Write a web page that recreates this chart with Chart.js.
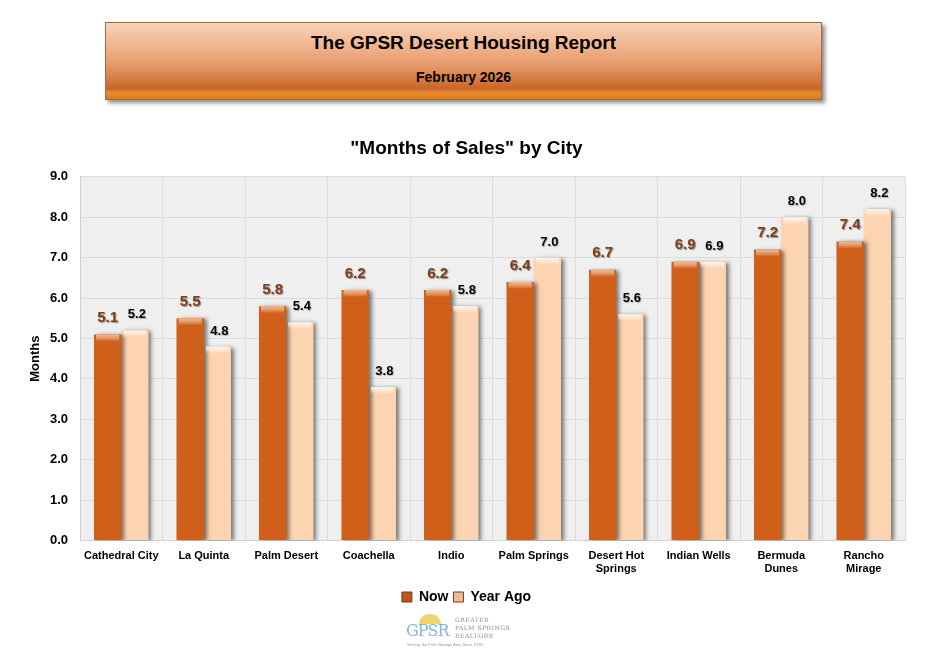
<!DOCTYPE html>
<html>
<head>
<meta charset="utf-8">
<script src="https://cdn.jsdelivr.net/npm/chart.js@4/dist/chart.umd.min.js"></script>
<style>
  body { margin: 0; background: #fff; font-family: "Liberation Sans", Arial, sans-serif; }
  #page { position: relative; width: 933px; height: 650px; overflow: hidden; }
  #banner {
    position: absolute; left: 105px; top: 22px; width: 715px; height: 76px;
    border: 1px solid #9a6a4a;
    background: linear-gradient(to bottom, #f8d2b6 0%, #f1b58e 30%, #e59a6a 55%, #d27538 78%, #c9652a 86%, #e88a2a 92%, #d97a1e 100%);
    box-shadow: 3px 3px 4px rgba(0,0,0,0.45);
    text-align: center; color: #000;
  }
  #banner .t1 { position: absolute; left: 0; right: 0; top: 9px; font-weight: bold; font-size: 19px; }
  #banner .t2 { position: absolute; left: 0; right: 0; top: 46px; font-weight: bold; font-size: 14px; }
  #wrap { position: absolute; left: 0; top: 130px; width: 933px; height: 490px; }
  #logo { position: absolute; left: 405px; top: 612px; width: 110px; height: 36px; }
  #logo .g { position: absolute; left: 1px; top: 9px; font-family: "DejaVu Serif", serif; font-size: 16px; color: #7fb8d8; letter-spacing: -1px; }
  #logo .r { position: absolute; left: 50px; top: 4px; font-family: "DejaVu Serif", serif; font-size: 6px; line-height: 8px; color: #8a8a8a; letter-spacing: 0.5px; white-space: nowrap; }
  #logo .sun { position: absolute; left: 14px; top: 2px; width: 22px; height: 10px; border-radius: 11px 11px 0 0; background: #f3d36a; }
  #logo .s { position: absolute; left: 2px; top: 30px; font-size: 4px; color: #999; white-space: nowrap; }
</style>
</head>
<body>
<div id="page">
  <div id="banner">
    <div class="t1">The GPSR Desert Housing Report</div>
    <div class="t2">February 2026</div>
  </div>
  <div id="wrap"><canvas id="chart"></canvas></div>
  <div id="logo">
    <div class="sun"></div>
    <div class="g">GPSR</div>
    <div class="r">GREATER<br>PALM SPRINGS<br>REALTORS</div>
    <div class="s">Serving the Palm Springs Area Since 1938</div>
  </div>
</div>
<script>
var cities = ["Cathedral City", "La Quinta", "Palm Desert", "Coachella", "Indio", "Palm Springs",
  ["Desert Hot", "Springs"], "Indian Wells", ["Bermuda", "Dunes"], ["Rancho", "Mirage"]];
var nowValues = [5.1, 5.5, 5.8, 6.2, 6.2, 6.4, 6.7, 6.9, 7.2, 7.4];
var yearAgoValues = [5.2, 4.8, 5.4, 3.8, 5.8, 7.0, 5.6, 6.9, 8.0, 8.2];
var seriesNames = ["Now", "Year Ago"];

var FONT = "'Liberation Sans', Arial, sans-serif";

function barGradient(ctx, dark) {
  var chart = ctx.chart;
  var el = ctx.element;
  if (!chart.chartArea || !el || el.width === undefined) {
    return dark ? "#cf5f19" : "#fdd4b2";
  }
  var x0 = el.x - el.width / 2, x1 = el.x + el.width / 2;
  var g = chart.ctx.createLinearGradient(x0, 0, x1, 0);
  if (dark) {
    g.addColorStop(0, "#c85614");
    g.addColorStop(0.15, "#d8651d");
    g.addColorStop(0.8, "#cf5f19");
    g.addColorStop(1, "#8e3e0c");
  } else {
    g.addColorStop(0, "#f4c29c");
    g.addColorStop(0.15, "#ffd9b8");
    g.addColorStop(0.8, "#fdd3b0");
    g.addColorStop(1, "#d8a67e");
  }
  return g;
}

var plotBg = {
  id: "plotBg",
  beforeDraw: function (chart) {
    var a = chart.chartArea, c = chart.ctx;
    c.save();
    c.fillStyle = "#efefef";
    c.fillRect(a.left, a.top, a.right - a.left, a.bottom - a.top);
    c.restore();
  }
};

var bevel = {
  id: "bevel",
  beforeDatasetsDraw: function (chart) {
    var c = chart.ctx;
    c.save();
    c.shadowColor = "rgba(0,0,0,0.5)";
    c.shadowOffsetX = 3;
    c.shadowOffsetY = 1;
    c.shadowBlur = 4;
  },
  afterDatasetsDraw: function (chart) {
    var c = chart.ctx;
    c.restore();
    c.save();
    chart.data.datasets.forEach(function (ds, i) {
      chart.getDatasetMeta(i).data.forEach(function (bar) {
        var x0 = bar.x - bar.width / 2;
        var g = c.createLinearGradient(0, bar.y, 0, bar.y + 7);
        g.addColorStop(0, i === 0 ? "rgba(255,190,140,0.9)" : "rgba(255,245,235,0.95)");
        g.addColorStop(1, "rgba(255,255,255,0)");
        c.fillStyle = g;
        c.fillRect(x0 + 2, bar.y, bar.width - 4, 7);
      });
    });
    c.restore();
  }
};

var valueLabels = {
  id: "valueLabels",
  afterDatasetsDraw: function (chart) {
    var c = chart.ctx;
    c.save();
    c.textAlign = "center";
    c.textBaseline = "bottom";
    chart.data.datasets.forEach(function (ds, i) {
      chart.getDatasetMeta(i).data.forEach(function (bar, j) {
        var txt = ds.data[j].toFixed(1);
        if (i === 0) {
          c.font = "bold 15px " + FONT;
          c.shadowColor = "rgba(0,0,0,0.4)";
          c.shadowOffsetX = 1; c.shadowOffsetY = 1; c.shadowBlur = 1;
          c.fillStyle = "#7e3f1a";
          c.fillText(txt, bar.x, bar.y - 9);
        } else {
          c.font = "bold 13px " + FONT;
          c.shadowColor = "rgba(0,0,0,0.25)";
          c.shadowOffsetX = 1; c.shadowOffsetY = 1; c.shadowBlur = 1;
          c.fillStyle = "#000";
          c.fillText(txt, bar.x + 2, bar.y - 9);
        }
      });
    });
    c.restore();
  }
};

new Chart(document.getElementById("chart"), {
  type: "bar",
  data: {
    labels: cities,
    datasets: [{
      label: seriesNames[0],
      data: nowValues,
      backgroundColor: function (ctx) { return barGradient(ctx, true); },
      borderWidth: 0
    }, {
      label: seriesNames[1],
      data: yearAgoValues,
      backgroundColor: function (ctx) { return barGradient(ctx, false); },
      borderWidth: 0
    }]
  },
  options: {
    responsive: true,
    maintainAspectRatio: false,
    animation: false,
    datasets: { bar: { categoryPercentage: 0.66, barPercentage: 1 } },
    layout: { padding: { left: 28, right: 28, top: 0, bottom: 6 } },
    plugins: {
      title: {
        display: true,
        text: "\"Months of Sales\" by City",
        color: "#000",
        font: { family: FONT, size: 19, weight: "bold" },
        padding: { top: 7, bottom: 17 }
      },
      legend: {
        position: "bottom",
        labels: {
          color: "#000",
          font: { family: FONT, size: 14, weight: "bold" },
          boxWidth: 10, boxHeight: 10,
          padding: 5,
          generateLabels: function (chart) {
            var fills = ["#b8581c", "#e8bf9c"];
            return chart.data.datasets.map(function (ds, i) {
              return { text: ds.label, fillStyle: fills[i], strokeStyle: "#7a3a10", lineWidth: 1, datasetIndex: i };
            });
          }
        }
      },
      tooltip: { enabled: false }
    },
    scales: {
      x: {
        grid: { color: "#dcdcdc", drawTicks: false, offset: true },
        border: { color: "#d0d0d0" },
        ticks: {
          color: "#000",
          font: { family: FONT, size: 11, weight: "bold" },
          padding: 9,
          maxRotation: 0, autoSkip: false
        }
      },
      y: {
        min: 0, max: 9,
        grid: { color: "#dcdcdc", drawTicks: false },
        border: { color: "#d0d0d0" },
        afterFit: function (s) { s.width = 52; },
        ticks: {
          stepSize: 1,
          color: "#000",
          padding: 12,
          font: { family: FONT, size: 13, weight: "bold" },
          callback: function (v) { return v.toFixed(1); }
        },
        title: {
          display: true,
          text: "Months",
          color: "#000",
          padding: 0,
          font: { family: FONT, size: 13, weight: "bold" }
        }
      }
    }
  },
  plugins: [plotBg, bevel, valueLabels]
});
</script>
</body>
</html>
